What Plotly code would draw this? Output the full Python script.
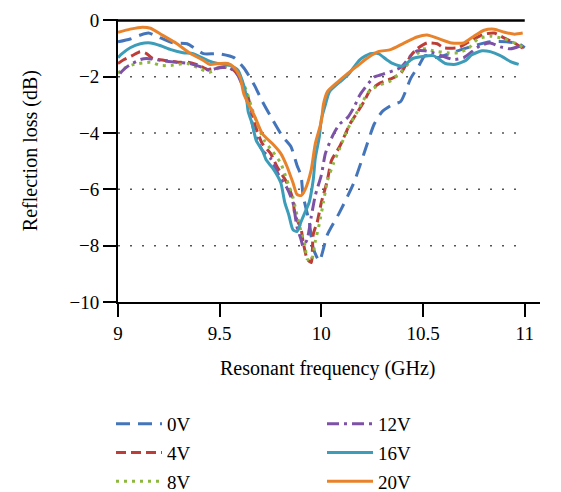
import plotly.graph_objects as go

# ---------------- data ----------------
x_0v = [9.0, 9.06, 9.11, 9.15, 9.19, 9.27, 9.34, 9.42, 9.49, 9.57, 9.62, 9.67, 9.71, 9.75, 9.81, 9.85,
        9.88, 9.90, 9.91, 9.94, 9.96, 9.99, 10.03, 10.09, 10.16, 10.21, 10.26, 10.30, 10.35, 10.39, 10.44,
        10.48, 10.51, 10.57, 10.64, 10.75, 10.83, 10.91, 10.97, 11.0]
y_0v = [-0.76, -0.66, -0.52, -0.45, -0.56, -0.80, -0.83, -1.18, -1.18, -1.32, -1.70, -2.29, -2.88, -3.40,
        -4.13, -4.48, -5.14, -5.52, -6.22, -7.15, -8.09, -8.54, -7.60, -6.81, -5.76, -4.72, -3.68, -3.23,
        -2.99, -2.88, -2.05, -1.60, -1.25, -1.32, -1.15, -0.90, -0.76, -0.76, -0.83, -0.97]

x_4v = [9.0, 9.03, 9.07, 9.11, 9.14, 9.17, 9.23, 9.31, 9.35, 9.40, 9.44, 9.48, 9.54, 9.57, 9.60, 9.64,
        9.66, 9.68, 9.71, 9.75, 9.78, 9.83, 9.86, 9.87, 9.90, 9.91, 9.93, 9.95, 9.96, 9.98, 10.0, 10.03,
        10.05, 10.09, 10.14, 10.18, 10.21, 10.24, 10.29, 10.34, 10.39, 10.44, 10.47, 10.52, 10.57, 10.60,
        10.67, 10.70, 10.75, 10.80, 10.85, 10.90, 10.95, 10.995]
y_4v = [-1.53, -1.39, -1.25, -1.11, -1.18, -1.35, -1.42, -1.49, -1.49, -1.60, -1.74, -1.70, -1.67, -1.77,
        -2.05, -2.74, -3.33, -3.85, -4.38, -4.72, -5.17, -5.76, -6.35, -6.91, -7.40, -7.85, -8.47, -8.60,
        -7.60, -7.15, -6.46, -5.66, -4.97, -4.48, -3.68, -3.23, -2.88, -2.47, -2.22, -2.08, -1.88, -1.25,
        -1.01, -0.80, -0.83, -0.97, -0.97, -0.87, -0.66, -0.49, -0.45, -0.63, -0.80, -1.01]

x_8v = [9.0, 9.03, 9.08, 9.16, 9.21, 9.26, 9.34, 9.39, 9.45, 9.50, 9.55, 9.59, 9.63, 9.66, 9.69, 9.72,
        9.76, 9.80, 9.83, 9.86, 9.88, 9.90, 9.92, 9.93, 9.95, 9.97, 9.99, 10.01, 10.03, 10.06, 10.09, 10.13,
        10.17, 10.20, 10.24, 10.29, 10.34, 10.40, 10.45, 10.50, 10.55, 10.62, 10.67, 10.72, 10.77, 10.83,
        10.90, 10.96, 10.995]
y_8v = [-1.88, -1.70, -1.56, -1.49, -1.60, -1.60, -1.53, -1.67, -1.84, -1.67, -1.63, -1.88, -2.47, -3.16,
        -3.78, -4.27, -4.65, -5.07, -5.66, -6.28, -6.91, -7.50, -8.02, -8.47, -8.54, -7.85, -7.22, -6.46,
        -5.69, -5.07, -4.55, -3.85, -3.33, -2.92, -2.47, -2.29, -2.15, -1.77, -1.35, -1.01, -1.08, -1.15,
        -1.15, -1.01, -0.66, -0.56, -0.66, -0.83, -0.97]

x_12v = [9.01, 9.04, 9.07, 9.11, 9.14, 9.21, 9.29, 9.35, 9.40, 9.45, 9.50, 9.54, 9.58, 9.61, 9.64, 9.67,
         9.71, 9.75, 9.79, 9.83, 9.86, 9.88, 9.90, 9.91, 9.93, 9.95, 9.97, 10.0, 10.02, 10.06, 10.09, 10.13,
         10.16, 10.19, 10.26, 10.29, 10.39, 10.44, 10.47, 10.51, 10.55, 10.59, 10.65, 10.70, 10.78, 10.83,
         10.88, 10.93, 10.98]
y_12v = [-1.88, -1.67, -1.53, -1.39, -1.35, -1.42, -1.49, -1.53, -1.63, -1.77, -1.67, -1.67, -1.84, -2.29,
         -2.99, -3.96, -4.62, -4.90, -5.49, -5.94, -6.46, -7.33, -7.78, -8.02, -7.78, -6.98, -6.22, -5.49,
         -4.72, -4.03, -3.68, -3.44, -3.09, -2.64, -2.01, -1.94, -1.67, -1.25, -1.08, -1.08, -1.15, -1.25,
         -1.39, -1.32, -0.90, -0.80, -0.94, -1.01, -0.90]

x_16v = [9.0, 9.02, 9.06, 9.11, 9.16, 9.21, 9.26, 9.32, 9.37, 9.44, 9.49, 9.55, 9.59, 9.61, 9.63, 9.64,
         9.66, 9.68, 9.71, 9.73, 9.76, 9.80, 9.82, 9.84, 9.86, 9.88, 9.90, 9.92, 9.94, 9.96, 9.97, 9.99,
         10.0, 10.02, 10.04, 10.09, 10.13, 10.19, 10.24, 10.28, 10.32, 10.35, 10.40, 10.45, 10.50, 10.55,
         10.61, 10.66, 10.71, 10.74, 10.79, 10.83, 10.88, 10.93, 10.97]
y_16v = [-1.32, -1.18, -0.97, -0.83, -0.80, -0.90, -1.04, -1.15, -1.18, -1.42, -1.53, -1.60, -1.77, -2.12,
         -2.64, -3.23, -3.68, -4.27, -4.62, -4.97, -5.24, -5.76, -6.46, -6.91, -7.43, -7.50, -7.15, -6.81,
         -6.46, -5.66, -4.90, -4.13, -3.51, -2.99, -2.53, -2.19, -1.94, -1.39, -1.18, -1.18, -1.39, -1.53,
         -1.63, -1.35, -1.28, -1.25, -1.53, -1.56, -1.42, -1.22, -1.08, -1.11, -1.25, -1.46, -1.56]

x_20v = [9.0, 9.06, 9.12, 9.16, 9.21, 9.29, 9.35, 9.42, 9.45, 9.50, 9.54, 9.57, 9.60, 9.62, 9.67, 9.71,
         9.76, 9.80, 9.83, 9.86, 9.88, 9.90, 9.92, 9.95, 9.97, 10.0, 10.01, 10.03, 10.08, 10.13, 10.18,
         10.23, 10.28, 10.34, 10.40, 10.47, 10.52, 10.57, 10.64, 10.70, 10.75, 10.80, 10.85, 10.90, 10.95,
         10.99]
y_20v = [-0.42, -0.31, -0.24, -0.28, -0.49, -0.83, -1.15, -1.42, -1.56, -1.53, -1.53, -1.67, -2.01, -2.64,
         -3.37, -4.03, -4.38, -4.72, -5.17, -5.76, -6.18, -6.22, -6.01, -5.31, -4.38, -3.58, -2.99, -2.53,
         -2.19, -1.88, -1.60, -1.32, -1.11, -1.04, -0.83, -0.59, -0.52, -0.63, -0.80, -0.80, -0.56, -0.35,
         -0.31, -0.42, -0.49, -0.45]

series_names = ["0V", "4V", "8V", "12V", "16V", "20V"]
x_ticks = [9, 9.5, 10, 10.5, 11]
x_tick_labels = ["9", "9.5", "10", "10.5", "11"]
y_ticks = [-10, -8, -6, -4, -2, 0]
y_grid = [-8, -6, -4, -2]

# ---------------- styling ----------------
FONT = "Liberation Serif"
W, H = 553, 484  # page body has an 8px margin in the browser
series = [
    (x_0v, y_0v, "#4475BA", "14px,8px", "legend"),
    (x_4v, y_4v, "#BD3D38", "10px,5px", "legend"),
    (x_8v, y_8v, "#8DB83E", "3px,5px", "legend"),
    (x_12v, y_12v, "#7D52A6", "12px,5px,3px,5px", "legend2"),
    (x_16v, y_16v, "#3D9DB9", "solid", "legend2"),
    (x_20v, y_20v, "#E8832B", "solid", "legend2"),
]

fig = go.Figure()
for name, (xs, ys, col, dash, lg) in zip(series_names, series):
    fig.add_trace(go.Scatter(
        x=xs, y=ys, mode="lines", name=name, legend=lg, legendgroup=name,
        line=dict(color=col, width=3, dash=dash, shape="spline", smoothing=0.6),
    ))

legend_common = dict(xanchor="left", yanchor="top", xref="container", yref="container",
                     font=dict(family=FONT, size=19, color="black"),
                     tracegroupgap=1, itemwidth=46, bgcolor="rgba(0,0,0,0)")

shapes = [dict(type="line", xref="x", yref="y", x0=9, x1=11, y0=g, y1=g, layer="below",
               line=dict(color="#555555", width=1.5, dash="2px,10px")) for g in y_grid]
shapes.append(dict(type="line", xref="x", yref="y", x0=9, x1=11, y0=0, y1=0,
                   line=dict(color="black", width=2.5), layer="above"))

fig.update_layout(
    width=W, height=H,
    margin=dict(l=110, r=21, t=11, b=190, autoexpand=False),
    paper_bgcolor="white", plot_bgcolor="white",
    font=dict(family=FONT, size=19, color="black"),
    showlegend=True,
    legend=dict(x=103 / W, y=1 - 397 / H, **legend_common),
    legend2=dict(x=314 / W, y=1 - 397 / H, **legend_common),
    xaxis=dict(range=[9, 11.075], tickvals=x_ticks, ticktext=x_tick_labels,
               showline=True, linecolor="black", linewidth=2,
               ticks="outside", ticklen=13, tickwidth=2, tickcolor="black",
               showgrid=False, zeroline=False, ticklabeloverflow="allow",
               tickfont=dict(family=FONT, size=19, color="black")),
    yaxis=dict(range=[-10, 0.05], tickvals=y_ticks,
               showline=True, linecolor="black", linewidth=2,
               ticks="outside", ticklen=13, tickwidth=2, tickcolor="black",
               showgrid=False, zeroline=False, ticklabeloverflow="allow",
               tickfont=dict(family=FONT, size=19, color="black")),
    shapes=shapes,
    annotations=[
        dict(text="Resonant frequency (GHz)", xref="paper", yref="paper",
             x=0.4976, y=-0.235, xanchor="center", yanchor="middle", showarrow=False,
             font=dict(family=FONT, size=20, color="black")),
        dict(text="Reflection loss (dB)", xref="paper", yref="paper", textangle=-90,
             x=-0.2085, y=0.533, xanchor="center", yanchor="middle", showarrow=False,
             font=dict(family=FONT, size=20, color="black")),
    ],
)

fig.write_html("out.html")
